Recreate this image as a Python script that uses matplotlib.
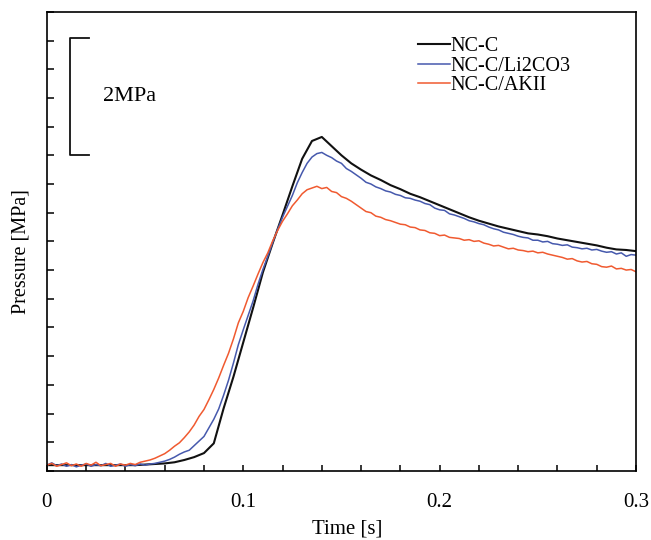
import numpy as np
import matplotlib.pyplot as plt
from matplotlib.ticker import MultipleLocator, NullFormatter

plt.rcParams['font.family'] = ['Liberation Serif', 'DejaVu Serif']

# Time grids [s]
t_coarse = np.round(np.arange(61) * 0.005, 4)
t_fine = np.round(np.arange(121) * 0.0025, 4)

# NC-C (smooth trace, coarse grid)
p_ncc = [0.10, 0.10, 0.10, 0.10, 0.10, 0.10, 0.10, 0.10, 0.10, 0.10,
         0.11, 0.12, 0.13, 0.15, 0.19, 0.24, 0.31, 0.48, 1.09, 1.64,
         2.24, 2.84, 3.46, 3.97, 4.46, 4.96, 5.44, 5.75, 5.82, 5.66,
         5.50, 5.36, 5.25, 5.15, 5.07, 4.98, 4.91, 4.83, 4.77, 4.70,
         4.63, 4.56, 4.49, 4.42, 4.36, 4.31, 4.26, 4.22, 4.18, 4.14,
         4.12, 4.09, 4.05, 4.02, 3.99, 3.96, 3.93, 3.89, 3.86, 3.85,
         3.83]

# NC-C/Li2CO3 (noisy trace, fine grid)
p_li = [0.10, 0.14, 0.09, 0.12, 0.08, 0.11, 0.07, 0.10, 0.12, 0.08,
        0.11, 0.09, 0.13, 0.08, 0.10, 0.12, 0.08, 0.11, 0.09, 0.12,
        0.10, 0.12, 0.13, 0.15, 0.17, 0.20, 0.24, 0.29, 0.33, 0.36,
        0.44, 0.52, 0.60, 0.75, 0.90, 1.08, 1.32, 1.58, 1.88, 2.20,
        2.46, 2.71, 2.96, 3.25, 3.51, 3.74, 3.98, 4.21, 4.42, 4.61,
        4.80, 5.02, 5.20, 5.36, 5.47, 5.53, 5.55, 5.50, 5.46, 5.40,
        5.36, 5.27, 5.22, 5.16, 5.10, 5.03, 5.00, 4.95, 4.92, 4.88,
        4.86, 4.82, 4.80, 4.76, 4.75, 4.72, 4.70, 4.66, 4.64, 4.58,
        4.55, 4.54, 4.48, 4.46, 4.43, 4.40, 4.36, 4.34, 4.31, 4.29,
        4.25, 4.22, 4.20, 4.16, 4.14, 4.12, 4.09, 4.07, 4.06, 4.02,
        4.02, 3.99, 4.00, 3.96, 3.95, 3.93, 3.94, 3.90, 3.89, 3.87,
        3.88, 3.85, 3.86, 3.83, 3.81, 3.82, 3.78, 3.80, 3.74, 3.77,
        3.76]

# NC-C/AKII (noisy trace, fine grid)
p_akii = [0.10, 0.13, 0.08, 0.11, 0.14, 0.09, 0.12, 0.08, 0.13, 0.10,
          0.15, 0.09, 0.11, 0.13, 0.08, 0.12, 0.10, 0.13, 0.11, 0.15,
          0.17, 0.19, 0.22, 0.26, 0.30, 0.36, 0.43, 0.49, 0.58, 0.68,
          0.80, 0.95, 1.07, 1.24, 1.42, 1.62, 1.84, 2.05, 2.30, 2.58,
          2.78, 3.02, 3.22, 3.43, 3.63, 3.80, 4.01, 4.19, 4.35, 4.48,
          4.62, 4.72, 4.83, 4.90, 4.93, 4.96, 4.92, 4.94, 4.87, 4.85,
          4.78, 4.75, 4.70, 4.64, 4.58, 4.52, 4.50, 4.44, 4.42, 4.38,
          4.36, 4.33, 4.30, 4.29, 4.25, 4.24, 4.20, 4.19, 4.15, 4.14,
          4.10, 4.11, 4.07, 4.06, 4.05, 4.02, 4.03, 4.00, 4.01, 3.97,
          3.95, 3.92, 3.93, 3.90, 3.87, 3.88, 3.85, 3.84, 3.82, 3.83,
          3.80, 3.81, 3.78, 3.76, 3.74, 3.72, 3.69, 3.70, 3.66, 3.64,
          3.65, 3.61, 3.60, 3.56, 3.55, 3.57, 3.52, 3.53, 3.50, 3.51,
          3.47]

labels = ['NC-C', 'NC-C/Li2CO3', 'NC-C/AKII']
colors = ['#111111', '#4659ad', '#f05a30']

fig = plt.figure(figsize=(6.51, 5.40), dpi=100)
ax = fig.add_axes([0.072, 0.128, 0.905, 0.85])

ax.plot(t_coarse, p_ncc, color=colors[0], lw=1.5, label=labels[0])
ax.plot(t_fine, p_li, color=colors[1], lw=1.1, label=labels[1])
ax.plot(t_fine, p_akii, color=colors[2], lw=1.1, label=labels[2])

ax.set_xlim(0, 0.3)
ax.set_ylim(0, 8)

# ticks: inward, x every 0.02 (labels every 0.1), y every 0.5 without labels
ax.xaxis.set_minor_locator(MultipleLocator(0.02))
ax.set_xticks([0, 0.1, 0.2, 0.3])
ax.set_xticklabels(['0', '0.1', '0.2', '0.3'])
ax.yaxis.set_major_locator(MultipleLocator(0.5))
ax.yaxis.set_major_formatter(NullFormatter())
ax.tick_params(axis='x', which='both', direction='in', length=4, width=1.1,
               top=False, labelsize=15, pad=16)
ax.tick_params(axis='y', which='both', direction='in', length=5, width=1.1,
               right=False)
for s in ax.spines.values():
    s.set_linewidth(1.2)

ax.set_xlabel('Time [s]', fontsize=15, va='top')
ax.xaxis.set_label_coords(0.51, -0.106)
ax.set_ylabel('Pressure [MPa]', fontsize=14.5, va='center')
ax.yaxis.set_label_coords(-0.044, 0.477)

# 2 MPa scale bar
bar_x, cap_x = 0.0117, 0.0214
bar_lo, bar_hi = 5.5, 7.55
ax.plot([cap_x, bar_x, bar_x, cap_x], [bar_lo, bar_lo, bar_hi, bar_hi],
        color='#111111', lw=1.3)
ax.text(0.0285, 6.53, '2MPa', fontsize=16, va='center', ha='left')

ax.legend(loc='upper left', bbox_to_anchor=(0.617, 0.962), frameon=False,
          fontsize=14.5, handlelength=1.55, handletextpad=0.05,
          labelspacing=0.0, borderaxespad=0)

fig.savefig('out.png', dpi=100)
